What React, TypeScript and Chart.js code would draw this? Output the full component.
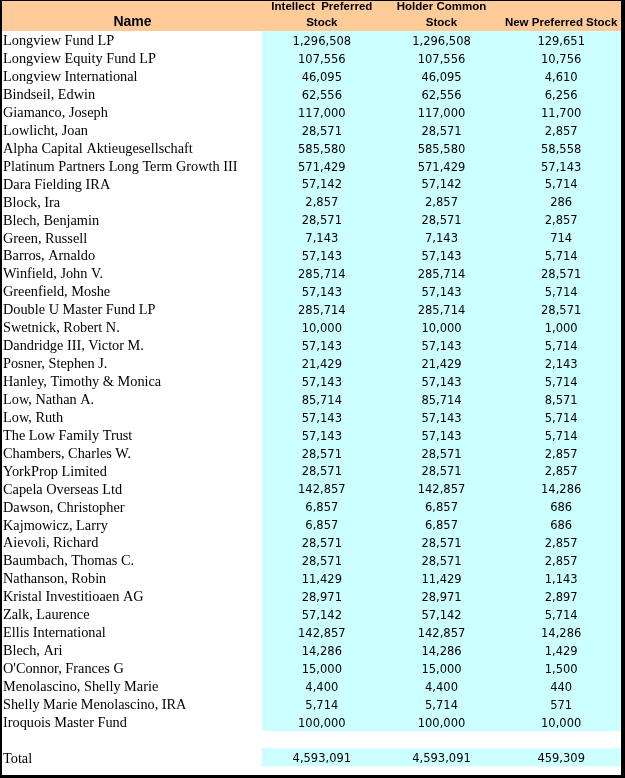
import React, { useEffect, useRef } from "react";
import { Chart, registerables } from "chart.js";

Chart.register(...registerables);

const names = [
  "Longview Fund LP",
  "Longview Equity Fund LP",
  "Longview International",
  "Bindseil, Edwin",
  "Giamanco, Joseph",
  "Lowlicht, Joan",
  "Alpha Capital Aktieugesellschaft",
  "Platinum Partners Long Term Growth III",
  "Dara Fielding IRA",
  "Block, Ira",
  "Blech, Benjamin",
  "Green, Russell",
  "Barros, Arnaldo",
  "Winfield, John V.",
  "Greenfield, Moshe",
  "Double U Master Fund LP",
  "Swetnick, Robert N.",
  "Dandridge III, Victor M.",
  "Posner, Stephen J.",
  "Hanley, Timothy & Monica",
  "Low, Nathan A.",
  "Low, Ruth",
  "The Low Family Trust",
  "Chambers, Charles W.",
  "YorkProp Limited",
  "Capela Overseas Ltd",
  "Dawson, Christopher",
  "Kajmowicz, Larry",
  "Aievoli, Richard",
  "Baumbach, Thomas C.",
  "Nathanson, Robin",
  "Kristal Investitioaen AG",
  "Zalk, Laurence",
  "Ellis International",
  "Blech, Ari",
  "O'Connor, Frances G",
  "Menolascino, Shelly Marie",
  "Shelly Marie Menolascino, IRA",
  "Iroquois Master Fund",
];

const intellectPreferred = [
  1296508, 107556, 46095, 62556, 117000, 28571, 585580, 571429, 57142, 2857,
  28571, 7143, 57143, 285714, 57143, 285714, 10000, 57143, 21429, 57143,
  85714, 57143, 57143, 28571, 28571, 142857, 6857, 6857, 28571, 28571,
  11429, 28971, 57142, 142857, 14286, 15000, 4400, 5714, 100000,
];

const holderCommon = [
  1296508, 107556, 46095, 62556, 117000, 28571, 585580, 571429, 57142, 2857,
  28571, 7143, 57143, 285714, 57143, 285714, 10000, 57143, 21429, 57143,
  85714, 57143, 57143, 28571, 28571, 142857, 6857, 6857, 28571, 28571,
  11429, 28971, 57142, 142857, 14286, 15000, 4400, 5714, 100000,
];

const newPreferred = [
  129651, 10756, 4610, 6256, 11700, 2857, 58558, 57143, 5714, 286,
  2857, 714, 5714, 28571, 5714, 28571, 1000, 5714, 2143, 5714,
  8571, 5714, 5714, 2857, 2857, 14286, 686, 686, 2857, 2857,
  1143, 2897, 5714, 14286, 1429, 1500, 440, 571, 10000,
];

const totalLabel = "Total";
const totalIntellectPreferred = 4593091;
const totalHolderCommon = 4593091;
const totalNewPreferred = 459309;

const nameHeader = "Name";
const columnHeaders = [
  ["Intellect  Preferred", "Stock"],
  ["Holder Common", "Stock"],
  ["", "New Preferred Stock"],
];

const PEACH = "#FFCC99";
const CYAN = "#CCFFFF";

export default function App() {
  const ref = useRef<HTMLCanvasElement | null>(null);

  useEffect(() => {
    if (!ref.current) return;
    const rowLabels = [...names, "", totalLabel];
    const columns = [
      [...intellectPreferred, null, totalIntellectPreferred],
      [...holderCommon, null, totalHolderCommon],
      [...newPreferred, null, totalNewPreferred],
    ];
    const fills = rowLabels.map((l) => (l === "" ? null : [0, columns.length]));

    const tablePlugin = {
      id: "tablePlugin",
      beforeDraw(chart: any) {
        const { ctx, width, height, chartArea } = chart;
        ctx.save();
        ctx.fillStyle = "#FFFFFF";
        ctx.fillRect(0, 0, width, height);
        ctx.fillStyle = PEACH;
        ctx.fillRect(0, 0, width, chartArea.top);
        ctx.restore();
      },
      afterDatasetsDraw(chart: any) {
        const { ctx } = chart;
        const xs = chart.scales.x;
        const ys = chart.scales.y;
        ctx.save();
        ctx.fillStyle = "#000000";
        ctx.font = "11.5px 'DejaVu Sans'";
        ctx.textAlign = "center";
        ctx.textBaseline = "middle";
        columns.forEach((col, c) => {
          const x = xs.getPixelForValue(c + 0.5);
          col.forEach((v, r) => {
            if (v === null) return;
            const y = ys.getPixelForValue(r) + 2;
            ctx.fillText(v.toLocaleString("en-US"), x, y);
          });
        });
        ctx.restore();
      },
      afterDraw(chart: any) {
        const { ctx, width, height } = chart;
        const xs = chart.scales.x;
        const ys = chart.scales.y;
        ctx.save();
        ctx.fillStyle = "#000000";
        ctx.font = "bold 14px 'Liberation Sans'";
        ctx.textAlign = "center";
        ctx.textBaseline = "alphabetic";
        ctx.fillText(nameHeader, (ys.left + ys.right) / 2, xs.bottom - 5);
        // frame
        ctx.fillRect(0, 0, width, 1);
        ctx.fillRect(0, 0, 2, height);
        ctx.fillRect(width - 4, 0, 4, height);
        ctx.fillRect(0, height - 3, width, 3);
        ctx.restore();
      },
    };

    const chart = new Chart(ref.current, {
      type: "bar",
      data: {
        labels: rowLabels,
        datasets: [
          {
            label: "cells",
            data: fills as any,
            backgroundColor: CYAN,
            borderWidth: 0,
            barPercentage: 1,
            categoryPercentage: 1,
          },
        ],
      },
      options: {
        indexAxis: "y",
        responsive: false,
        animation: false,
        layout: { padding: { left: 3, right: 4, top: 0, bottom: 3.5 } },
        plugins: {
          legend: { display: false },
          tooltip: { enabled: false },
          title: { display: false },
        },
        scales: {
          x: {
            type: "linear",
            position: "top",
            min: 0,
            max: columns.length,
            grid: { display: false, drawTicks: false },
            border: { display: false },
            afterBuildTicks: (scale: any) => {
              scale.ticks = columnHeaders.map((_, i) => ({ value: i + 0.5 }));
            },
            afterFit: (scale: any) => {
              scale.height = 31;
            },
            ticks: {
              autoSkip: false,
              maxRotation: 0,
              minRotation: 0,
              padding: 0,
              color: "#000000",
              font: { family: "'Liberation Sans'", size: 11.5, weight: "bold", lineHeight: "16px" },
              callback: (_v: any, i: number) => columnHeaders[i],
            },
          },
          y: {
            type: "category",
            grid: { display: false, drawTicks: false },
            border: { display: false },
            afterFit: (scale: any) => {
              scale.width = 259;
            },
            ticks: {
              autoSkip: false,
              crossAlign: "far",
              labelOffset: 1.5,
              color: "#000000",
              font: { family: "'Liberation Serif'", size: 14.3 },
            },
          },
        },
      },
      plugins: [tablePlugin],
    });
    return () => chart.destroy();
  }, []);

  return (
    <div style={{ position: "absolute", left: 0, top: 0, width: 625, height: 778 }}>
      <canvas ref={ref} width={625} height={778} />
    </div>
  );
}
